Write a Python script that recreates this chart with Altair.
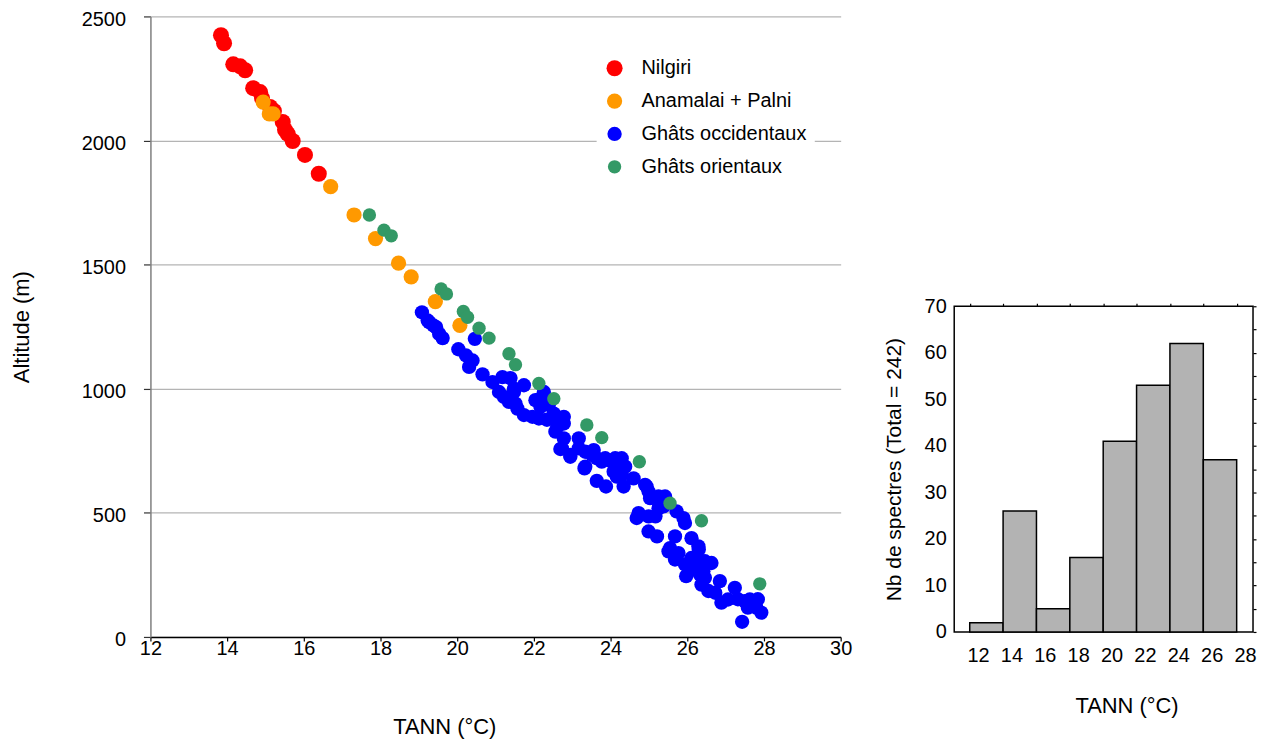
import altair as alt
import pandas as pd

# ---------------- scatter data (TANN °C, altitude m) ----------------
series_names = ["Nilgiri", "Anamalai + Palni", "Ghâts occidentaux", "Ghâts orientaux"]
series_colors = ["#FF0000", "#FF9900", "#0000FF", "#339966"]

nil_t = [13.84, 13.92, 14.16, 14.34, 14.47, 14.68, 14.86, 14.91, 15.12, 15.22,
         15.45, 15.51, 15.58, 15.71, 16.03, 16.39]
nil_a = [2424, 2392, 2307, 2299, 2283, 2211, 2195, 2171, 2135, 2119,
         2075, 2043, 2027, 1998, 1942, 1866]

ana_t = [14.94, 15.10, 15.20, 16.70, 17.31, 17.87, 18.47, 18.80, 19.43, 20.07]
ana_a = [2155, 2107, 2107, 1814, 1700, 1605, 1506, 1451, 1351, 1255]

occ_t = [19.08, 19.23, 19.27, 19.38, 19.45, 19.53, 19.62, 20.46, 20.03, 20.23,
         20.40, 20.31, 20.66, 20.92, 21.18, 21.39, 21.09, 21.48, 21.74, 21.35,
         21.57, 21.74, 22.04, 22.17, 21.96, 22.52, 22.61, 21.48, 21.52, 22.13,
         22.17, 22.78, 22.56, 22.61, 22.78, 22.69, 22.95, 23.17, 23.17, 23.34,
         23.32, 23.56, 23.64, 23.86, 23.64, 23.88, 24.12, 24.29, 24.12, 24.29,
         22.73, 22.95, 23.34, 23.52, 23.77, 24.03, 24.21, 24.38, 24.34, 24.60,
         24.90, 24.99, 25.03, 25.25, 25.42, 25.38, 25.72, 25.90, 25.94, 24.73,
         24.99, 24.99, 25.21, 25.68, 26.11, 25.55, 24.16, 24.94, 25.16, 25.33,
         25.25, 24.68, 25.51, 25.77, 26.30, 25.68, 25.94, 26.11, 26.29, 26.46,
         26.63, 26.07, 26.33, 26.46, 26.37, 26.85, 26.55, 26.73, 26.89, 27.06,
         27.24, 27.50, 27.63, 27.58, 27.80, 27.93, 27.43, 21.22, 22.26, 22.39,
         22.78, 22.34, 24.21, 24.08, 25.17, 26.29, 26.42, 25.97, 27.32, 27.84]
occ_a = [1308, 1275, 1268, 1255, 1248, 1221, 1204, 1201, 1159, 1134,
         1114, 1088, 1058, 1027, 1047, 1043, 987, 1000, 1014, 947,
         920, 894, 954, 927, 887, 900, 860, 987, 940, 880,
         960, 860, 827, 847, 800, 757, 726, 800, 760, 746,
         679, 753, 720, 720, 629, 606, 720, 720, 666, 653,
         760, 733, 686, 733, 706, 706, 679, 686, 606, 639,
         613, 586, 559, 566, 566, 526, 506, 479, 459, 499,
         486, 425, 405, 405, 398, 358, 646, 606, 559, 546,
         519, 479, 345, 338, 352, 312, 292, 318, 298, 305,
         298, 272, 252, 238, 211, 225, 185, 178, 138, 151,
         198, 144, 151, 118, 118, 98, 61, 967, 987, 935,
         887, 875, 706, 666, 486, 365, 265, 245, 152, 152]

ori_t = [17.71, 18.09, 18.28, 19.58, 19.72, 20.16, 20.27, 20.57, 20.83, 21.35,
         21.52, 22.13, 22.52, 23.38, 23.77, 24.75, 25.55, 26.37, 27.89]
ori_a = [1700, 1639, 1616, 1402, 1382, 1311, 1288, 1244, 1204, 1141,
         1097, 1021, 960, 854, 803, 706, 539, 468, 214]

x_ticks = list(range(12, 31, 2))
y_ticks = [0, 500, 1000, 1500, 2000, 2500]

# ---------------- histogram data ----------------
hist_start = [11.5, 13.5, 15.5, 17.5, 19.5, 21.5, 23.5, 25.5]
hist_end = [13.5, 15.5, 17.5, 19.5, 21.5, 23.5, 25.5, 27.5]
hist_counts = [2, 26, 5, 16, 41, 53, 62, 37]
hist_labels = list(range(12, 29, 2))
count_labels = list(range(0, 71, 10))
count_ticks = list(range(0, 71, 5))

rows = []
for name, ts, als in zip(series_names, [nil_t, ana_t, occ_t, ori_t],
                         [nil_a, ana_a, occ_a, ori_a]):
    for t, a in zip(ts, als):
        rows.append({"TANN": t, "Alt": a, "Serie": name})
df = pd.DataFrame(rows)

FONT = "Liberation Sans"

scatter = alt.Chart(df).mark_circle(opacity=1).encode(
    x=alt.X("TANN:Q",
            scale=alt.Scale(domain=[12, 30], nice=False, zero=False),
            axis=alt.Axis(title="TANN (°C)", values=x_ticks, grid=False, format="d",
                          domainColor="black", domainWidth=1.5,
                          tickColor="black", tickSize=4, tickWidth=1.2,
                          labelPadding=-2, labelFontSize=20, labelFlush=False,
                          titleFontSize=22, titlePadding=58, titleX=295)),
    y=alt.Y("Alt:Q",
            scale=alt.Scale(domain=[0, 2500], nice=False),
            axis=alt.Axis(title="Altitude (m)", values=y_ticks, grid=True, format="d",
                          gridColor="#b4b4b4", gridWidth=1.3,
                          domainColor="#7f7f7f", domainWidth=1.5,
                          tickColor="#333333", tickSize=7, tickWidth=1.2,
                          labelPadding=18, labelOffset=3, labelFontSize=20,
                          labelFlush=False,
                          titleFontSize=22, titlePadding=48)),
    color=alt.Color("Serie:N",
                    scale=alt.Scale(domain=series_names, range=series_colors),
                    sort=series_names,
                    legend=alt.Legend(title=None, orient="none",
                                      legendX=448, legendY=34,
                                      fillColor="white", padding=8,
                                      symbolType="circle", symbolSize=240,
                                      symbolStrokeWidth=0,
                                      labelFontSize=20, labelOffset=17,
                                      labelLimit=400,
                                      rowPadding=13, labelFont=FONT)),
    size=alt.Size("Serie:N",
                  scale=alt.Scale(domain=series_names, range=[260, 180, 200, 210]),
                  legend=None),
).properties(width=693, height=623)

hdf = pd.DataFrame({"start": hist_start, "end": hist_end, "count": hist_counts})
hx = alt.Scale(domain=[10.57, 28.48], nice=False, zero=False)
hy = alt.Scale(domain=[0, 70], nice=False)

bars = alt.Chart(hdf).mark_rect(fill="#b3b3b3", stroke="black", strokeWidth=1.5).encode(
    x=alt.X("start:Q", scale=hx,
            axis=alt.Axis(title="TANN (°C)", values=hist_labels, ticks=False,
                          domain=False, grid=False, labelPadding=14,
                          labelFontSize=20, labelFlush=False,
                          titleFontSize=22, titlePadding=30, titleX=173)),
    x2="end:Q",
    y=alt.Y("count:Q", scale=hy,
            axis=alt.Axis(title="Nb de spectres (Total = 242)", values=count_labels,
                          ticks=False, domain=False, grid=False, labelPadding=8,
                          labelFontSize=20, labelFlush=False,
                          titleFontSize=21, titlePadding=20)),
    y2=alt.datum(0),
)

tick_layer = alt.Chart(hdf).mark_rect(opacity=0).encode(
    x=alt.X("start:Q", scale=hx,
            axis=alt.Axis(orient="top", title=None, values=hist_start + [hist_end[-1]],
                          labels=False, domain=False, grid=False, ticks=True,
                          tickSize=3, tickColor="black", tickWidth=1.2)),
    x2="end:Q",
    y=alt.Y("count:Q", scale=hy,
            axis=alt.Axis(orient="right", title=None, values=count_ticks,
                          labels=False, domain=False, grid=False, ticks=True,
                          tickSize=3, tickColor="black", tickWidth=1.2)),
    y2=alt.datum(0),
)

hist = alt.layer(bars, tick_layer).resolve_axis(x="independent", y="independent").properties(
    width=300, height=327,
    view=alt.ViewBackground(stroke="black", strokeWidth=1.5),
)

spacer = alt.Chart(hdf).mark_point(opacity=0).encode(
    x=alt.value(0), y=alt.value(0)
).properties(width=300, height=280)

right = alt.vconcat(spacer, hist, spacing=0)

chart = alt.hconcat(scatter, right, spacing=30).properties(
    padding={"left": 2, "top": 0, "right": 0, "bottom": 0}
).configure_view(stroke=None).configure_axis(
    labelFont=FONT, titleFont=FONT, labelColor="black", titleColor="black",
    titleFontWeight="normal"
).configure_legend(labelFont=FONT, labelColor="black")

chart.save("out.html", embed_options={"renderer": "svg", "actions": False})
